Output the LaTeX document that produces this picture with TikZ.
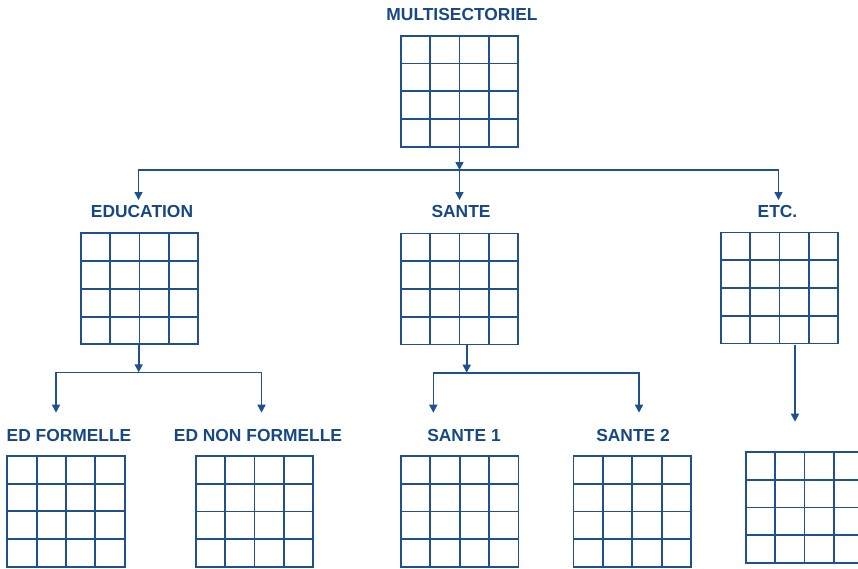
\documentclass[tikz,border=0pt]{standalone}
\usepackage{fontspec}
\setmainfont{Liberation Sans}
\usetikzlibrary{arrows.meta,calc}

\definecolor{lineblue}{HTML}{1F5190}
\definecolor{textblue}{HTML}{164886}

\tikzset{
  matrixbox/.style={
    draw=lineblue, line width=1.8pt, inner sep=0pt,
    minimum width=117.6pt, minimum height=111pt,
    path picture={
      \foreach \k in {1,2,3} {
        \draw[lineblue, line width=1.9pt]
          ($(path picture bounding box.north west)!{\k/4}!(path picture bounding box.north east)$) --
          ($(path picture bounding box.south west)!{\k/4}!(path picture bounding box.south east)$);
        \draw[lineblue, line width=1.9pt]
          ($(path picture bounding box.north west)!{\k/4}!(path picture bounding box.south west)$) --
          ($(path picture bounding box.north east)!{\k/4}!(path picture bounding box.south east)$);
      }
    }
  },
  sectorlabel/.style={
    text=textblue, font=\bfseries\fontsize{17.4}{19}\selectfont,
    anchor=base, inner sep=0pt
  },
  link/.style={draw=lineblue, line width=1.6pt},
  arrowlink/.style={link, -{Triangle[width=8pt,length=8pt]}}
}

\begin{document}
\begin{tikzpicture}[x=1pt,y=-1pt]
  \useasboundingbox (0,0) rectangle (858,568);

  % labels
  \node[sectorlabel] (lmulti) at (462,20.3) {MULTISECTORIEL};
  \node[sectorlabel] (ledu)   at (142,217) {EDUCATION};
  \node[sectorlabel] (lsante) at (461,217.8) {SANTE};
  \node[sectorlabel] (letc)   at (777.5,217.8) {ETC.};
  \node[sectorlabel] (ledf)   at (69,441.3) {ED FORMELLE};
  \node[sectorlabel] (lednf)  at (258,441.3) {ED NON FORMELLE};
  \node[sectorlabel] (ls1)    at (464,441.3) {SANTE 1};
  \node[sectorlabel] (ls2)    at (633,441.3) {SANTE 2};

  % matrices
  \node[matrixbox] (multi) at (459.5,91.2) {};
  \node[matrixbox] (edu)   at (139.5,288.8) {};
  \node[matrixbox] (sante) at (459.5,289) {};
  \node[matrixbox] (etc)   at (779.5,288) {};
  \node[matrixbox] (edf)   at (66,511.3) {};
  \node[matrixbox] (ednf)  at (254.5,511.5) {};
  \node[matrixbox] (s1)    at (459.7,511.5) {};
  \node[matrixbox] (s2)    at (632.2,511.5) {};
  \begin{scope}
    \clip (0,0) rectangle (858,568);
    \node[matrixbox] (etcsub) at (804.5,507.5) {};
  \end{scope}

  % first level: multisectoral to sectors
  \coordinate (bus1)     at (459.5,170);
  \coordinate (tipedu)   at (138.5,200);
  \coordinate (tipsante) at (459.5,200);
  \coordinate (tipetc)   at (778.5,200);
  \draw[arrowlink] (multi.south) -- (bus1);
  \draw[arrowlink] (bus1) -| (tipedu);
  \draw[arrowlink] (bus1) -- (tipsante);
  \draw[arrowlink] (bus1) -| (tipetc);

  % education branch
  \coordinate (bus2)   at (138.7,372.3);
  \coordinate (tipedf) at (56,412.7);
  \coordinate (tipednf) at (261.5,412.7);
  \draw[arrowlink] (edu.south -| bus2) -- (bus2);
  \draw[arrowlink] (bus2) -| (tipedf);
  \draw[arrowlink] (bus2) -| (tipednf);

  % health branch
  \coordinate (bus3)  at (466.7,372.7);
  \coordinate (tips1) at (433.3,412.7);
  \coordinate (tips2) at (639,412.7);
  \draw[arrowlink] (sante.south -| bus3) -- (bus3);
  \draw[arrowlink] (bus3) -| (tips1);
  \draw[arrowlink] (bus3) -| (tips2);

  % other sectors
  \coordinate (etcdrop) at (795,344.5);
  \coordinate (tipsub)  at (795,421.7);
  \draw[arrowlink] (etcdrop) -- (tipsub);
\end{tikzpicture}
\end{document}
